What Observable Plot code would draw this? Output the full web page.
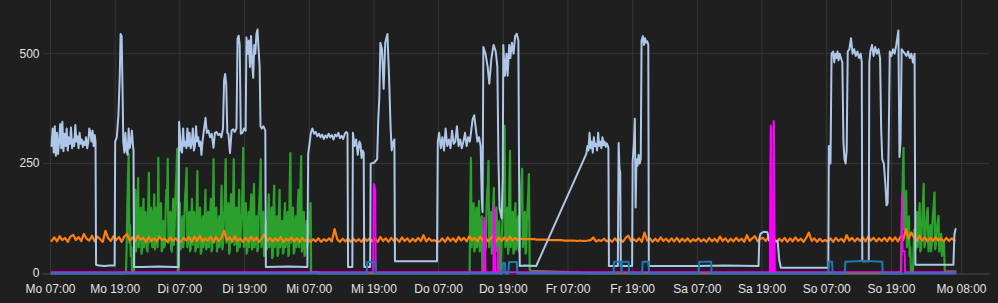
<!DOCTYPE html>
<html><head><meta charset="utf-8">
<script src="https://cdn.jsdelivr.net/npm/d3@7"></script>
<script src="https://cdn.jsdelivr.net/npm/@observablehq/plot@0.6"></script>
<style>html,body{margin:0;padding:0;background:#1f1f1f;overflow:hidden}</style>
</head><body><div id="chart"></div>
<script>
// time axis in hours since Monday 07:00
const tickHours = [0,12,24,36,48,60,72,84,96,108,120,132,144,156,169];
const tickLabels = ["Mo 07:00","Mo 19:00","Di 07:00","Di 19:00","Mi 07:00","Mi 19:00","Do 07:00","Do 19:00","Fr 07:00","Fr 19:00","Sa 07:00","Sa 19:00","So 07:00","So 19:00","Mo 08:00"];
const yTicks = [0,250,500];

// light blue series [hour, value]
const lightBlue = [
[0.19,290],[0.4,330],[0.6,275],[0.8,335],[1.0,268],[1.2,320],[1.4,272],[1.6,300],[1.8,340],[2.0,285],[2.2,345],[2.4,278],[2.6,318],[2.8,290],[3.0,330],[3.2,280],[3.4,310],[3.6,295],[3.8,332],[4.0,285],[4.2,305],[4.4,290],[4.6,338],[4.8,300],[5.0,312],[5.2,285],[5.4,320],[5.6,295],[5.8,305],[6.0,288],[6.2,300],[6.4,292],[6.6,310],[6.8,285],[7.0,298],[7.2,330],[7.4,320],[7.6,300],[7.8,325],[8.0,290],[8.2,315],[8.35,300],
[8.45,20],[9.0,18],[10.0,17],[11.0,18],[11.9,18],
[12.0,300],[12.3,310],[12.6,360],[12.85,450],[13.0,545],[13.2,540],[13.36,420],[13.5,300],[13.7,275],[13.9,320],[14.1,280],[14.3,270],[14.5,330],[14.7,285],[14.9,300],[15.1,325],[15.3,290],[15.4,280],
[15.5,15],[17,15],[20,16],[23,15],[23.75,15],
[23.85,345],[24.0,320],[24.2,280],[24.4,275],[24.6,330],[24.8,290],[25.0,300],[25.2,285],[25.4,330],[25.6,290],[25.8,320],[26.0,285],[26.2,295],[26.4,330],[26.6,280],[26.8,290],[27.0,335],[27.2,300],[27.4,310],[27.6,290],[27.8,300],
[28.0,270],[28.2,300],[28.5,330],[28.76,354],[29.0,320],[29.3,325],[29.6,310],[29.9,318],[30.24,286],[30.5,320],[30.8,322],[31.1,315],[31.4,318],[31.7,310],[32.0,330],[32.2,440],[32.4,454],[32.6,430],[32.8,320],[33.0,318],[33.3,274],[33.6,325],[33.9,328],[34.2,322],[34.5,330],[34.7,535],[34.9,541],[35.1,520],[35.3,318],[35.6,320],[35.9,330],[36.2,325],
[36.35,537],[36.6,500],[36.8,530],[37.0,470],[37.2,540],[37.4,480],[37.6,445],[37.8,520],[38.0,500],[38.2,545],[38.4,555],[38.6,510],[38.8,470],
[38.96,335],[39.2,330],[39.5,335],[39.85,325],
[39.95,15],[44,16],[47.65,15],
[47.8,272],[48.0,290],[48.3,320],[48.6,330],[48.9,318],[49.2,322],[49.5,312],[49.8,318],[50.1,310],[50.4,316],[50.7,306],[51.0,314],[51.3,309],[51.6,318],[51.9,310],[52.2,315],[52.5,305],[52.8,316],[53.1,312],[53.4,320],[53.7,308],[54.0,313],[54.3,306],[54.6,318],[54.9,322],[55.1,318],
[55.2,15],[56.0,15],
[56.1,320],[56.4,290],[56.7,305],[57.0,270],[57.3,300],[57.5,295],[57.7,263],[57.9,280],[58.1,275],
[58.2,15],[59.3,15],
[59.4,250],[60.0,252],[60.6,260],[60.8,350],[61.0,400],[61.2,525],[61.5,510],[61.8,420],[62.1,525],[62.5,545],[62.8,450],[63.1,330],[63.3,280],[63.6,300],[63.8,305],
[63.9,28],[71.7,28],
[71.85,300],[72.1,320],[72.4,285],[72.7,310],[73.0,280],[73.3,330],[73.6,290],[73.9,305],[74.2,285],[74.5,325],[74.8,295],[75.1,300],[75.4,335],[75.7,290],[76.0,305],[76.3,285],[76.6,300],[76.9,320],[77.2,290],[77.5,310],[77.8,300],
[78.0,320],[78.3,350],[78.6,360],[78.9,330],[79.2,300],[79.5,310],[79.8,290],[80.0,170],[80.15,140],
[80.3,515],[80.7,500],[81.1,470],[81.4,432],[81.8,490],[82.2,520],[82.6,505],[82.9,470],[83.1,260],[83.3,150],[83.7,125],[83.9,220],[84.0,520],[84.3,450],[84.6,500],[84.8,450],[85.1,520],[85.3,490],[85.6,525],[85.9,500],[86.2,540],[86.5,545],[86.8,530],[86.9,280],
[87.05,17],[88,18],[90.1,17],
[99.4,272],
[99.6,290],[99.8,280],[100.0,320],[100.2,285],[100.4,300],[100.6,275],[100.8,310],[101.0,290],[101.2,295],[101.4,280],[101.6,320],[101.8,290],[102.0,300],[102.2,285],[102.4,310],[102.6,292],[102.8,300],[103.0,288],[103.2,296],[103.4,290],[103.5,285],
[103.6,17],[105.25,17],[105.4,297],[105.55,240],[105.7,230],[105.8,17],[107.9,17],
[108.0,255],[108.25,300],[108.4,352],[108.55,150],[108.7,260],[108.9,245],[109.1,270],[109.3,250],[109.5,260],
[109.65,530],[109.9,540],[110.1,520],[110.3,535],[110.5,525],[110.7,528],[110.9,520],
[111.0,17],[120,17],[125,18],[131.35,17],
[131.5,80],[131.7,90],[132.3,95],[133.0,94],[133.3,75],[134.9,74],[135.2,30],[135.5,13],[140,13],[144.3,13],
[144.4,290],[144.7,250],[144.9,500],[145.2,505],[145.4,480],[145.6,500],[145.8,490],[146.0,505],[146.2,485],[146.4,500],[146.6,492],[146.9,480],
[147.1,300],[147.3,260],[147.5,250],[147.7,280],
[147.9,505],[148.2,510],[148.5,535],[148.8,500],[149.1,510],[149.4,495],[149.7,505],[150.0,490],[150.3,500],[150.5,480],
[150.6,28],[151.8,28],
[151.9,480],[152.1,505],[152.4,520],[152.7,495],[153.0,515],[153.3,500],[153.6,510],[153.9,490],
[154.1,330],[154.3,260],[154.6,250],[154.9,200],[155.1,155],[155.3,160],[155.5,300],
[155.7,505],[156.0,495],[156.3,510],[156.6,500],[156.9,520],[157.3,553],[157.4,400],[157.5,265],[157.7,300],
[157.9,510],[158.2,505],[158.5,500],[158.8,495],[159.1,505],[159.4,490],[159.7,500],[160.0,480],[160.3,500],
[160.45,20],[164,20],[167.5,20],[167.7,90],[167.9,101]
];

// green series: dense sections (evenly spaced between start and end hour) plus flat parts
const greenLead = [[0.19,0],[13.9,0]];
const green1Span = [14.0, 48.25];
const green1Values = [0,60,150,220,272,70,110,40,60,5,5,5,5,100,190,50,70,130,217,60,90,130,150,45,55,120,170,60,80,140,120,55,50,150,229,70,95,150,140,60,60,130,180,55,75,150,130,60,263,80,90,140,160,50,55,110,120,60,70,150,190,160,261,70,85,130,140,55,50,120,170,65,90,150,200,230,284,3,3,100,160,55,60,120,130,60,75,140,180,200,240,60,70,120,140,50,55,130,170,65,90,140,120,50,60,150,233,60,80,120,150,45,50,110,130,60,70,140,190,55,60,120,140,60,85,130,170,50,55,160,260,70,90,130,150,50,60,110,130,60,75,150,200,55,65,110,140,190,260,70,80,130,160,45,50,140,180,70,90,170,260,65,70,120,150,50,55,140,190,60,80,110,140,200,286,60,70,130,160,45,50,120,140,60,85,150,180,55,60,150,204,60,80,110,130,50,55,130,170,200,260,60,75,120,140,40,45,100,120,55,60,140,180,60,70,120,150,35,40,150,200,60,80,110,130,40,45,140,190,60,70,100,120,45,50,130,160,60,80,120,140,40,45,200,274,70,90,130,150,45,50,110,130,60,70,150,190,60,80,200,267,50,60,120,140,40,45,100,120,60,70,90,110,130,160];
const green1Tail = [[48.35,3],[49.7,3],[49.8,0],[77.6,0]];
const green2Span = [77.75, 88.75];
const green2Values = [0,150,263,60,90,140,160,50,55,120,150,60,70,130,165,50,60,110,130,5,0,60,120,50,60,140,180,200,256,60,70,120,140,45,50,160,195,60,80,130,150,50,60,100,120,5,0,50,90,130,160,250,336,60,70,130,150,45,55,200,279,60,80,120,140,45,50,130,160,55,70,110,130,50,55,150,180,210,238,60,70,120,140,45,50,120,150,180,226];
const green2Tail = [[88.9,8],[89.3,6],[92,5],[96,3],[100,0],[157.6,0]];
const green3Span = [157.75, 165.75];
const green3Values = [0,80,160,230,286,100,150,170,188,60,70,110,130,40,60,5,3,3,3,60,100,50,60,110,140,60,80,130,160,50,55,100,130,170,204,60,70,100,120,140,149,50,60,90,110,50,70,120,140,160,184,55,65,90,110,120,131,50,60,80,90,40,45,60,70];
const green3Tail = [[165.9,5],[167.9,5]];

// orange series sampled every 0.5 h from 0.2 h
const orangeStart = 0.2;
const orangeStep = 0.5;
const orangeValues = [
74,82,73,85,76,81,72,84,88,76,83,74,90,79,75,86,73,84,78,72,97,80,74,85,
76,83,72,84,90,75,82,73,86,77,81,72,83,74,80,73,84,76,79,72,82,74,80,73,
72,81,75,83,72,84,74,86,73,80,75,84,72,83,74,81,97,76,82,73,85,74,80,72,
81,73,84,75,82,72,80,89,74,81,73,80,74,83,72,79,75,82,73,80,72,81,74,79,
72,78,73,80,72,78,74,80,73,101,78,72,79,73,80,72,79,73,78,72,81,74,80,73,
79,72,83,74,80,72,81,74,79,72,82,74,80,72,79,73,81,74,87,73,80,74,76,72,
73,80,72,82,74,80,72,83,75,81,73,85,76,81,73,84,75,82,73,80,86,74,82,74,
82,74,84,75,81,76,79,78,78,78,78,78,77,77,77,77,77,76,76,76,76,76,75,75,
75,75,75,74,75,74,74,75,76,82,73,76,74,79,73,77,72,80,73,78,72,81,86,74,
78,73,80,72,93,75,80,72,79,73,82,74,79,72,80,73,81,72,79,73,80,72,78,74,
80,73,78,72,81,73,79,72,84,74,80,72,79,73,81,74,79,72,87,74,80,85,73,79,
81,74,84,73,80,72,79,73,81,72,80,73,82,74,79,72,81,93,74,80,72,79,73,76,
73,80,72,81,74,79,72,87,75,81,73,80,74,82,73,84,75,81,73,80,74,81,73,82,
74,82,73,84,76,101,80,93,82,74,86,75,82,73,81,74,83,75,80,73,81,74,80,75
];

// magenta series [hour, value]
const magenta = [[0.19,3],[59.85,3],[59.95,204],[60.1,200],[60.25,190],[60.35,3],[80.35,3],[80.45,127],[80.6,120],[80.7,3],[82.15,3],[82.25,153],[82.4,140],[82.5,3],[82.95,3],[83.05,60],[83.15,3],[133.45,3],[133.52,204],[133.6,337],[133.68,330],[133.76,3],[134.06,3],[134.14,347],[134.22,345],[134.3,178],[134.38,3],[157.85,3],[157.95,180],[158.1,51],[158.45,51],[158.55,3],[167.9,3]];

// dark blue series [hour, value]
const blue = [[0.19,0],[58.65,0],[58.75,26],[60.25,26],[60.35,0],[83.85,0],[83.95,24],[84.3,24],[84.4,0],[84.95,0],[85.05,26],[86.5,26],[86.6,0],[104.45,0],[104.55,27],[105.85,27],[105.95,0],[106.0,27],[107.25,27],[107.35,0],[109.75,0],[109.85,27],[110.95,27],[111.05,0],[120.25,0],[120.35,27],[122.55,27],[122.65,0],[144.3,0],[144.4,27],[145.0,27],[145.1,0],[147.35,0],[147.45,27],[149.5,28],[150.9,29],[154.3,27],[154.4,0],[167.9,0]];

const fromPairs = p => p.map(([h, v]) => ({h, v}));
const fromSpan = ([a, b], vals) => vals.map((v, i) => ({h: a + i * (b - a) / (vals.length - 1), v}));

const lightBlueData = fromPairs(lightBlue);
const greenData = [
  ...fromPairs(greenLead),
  ...fromSpan(green1Span, green1Values),
  ...fromPairs(green1Tail),
  ...fromSpan(green2Span, green2Values),
  ...fromPairs(green2Tail),
  ...fromSpan(green3Span, green3Values),
  ...fromPairs(green3Tail)
];
const orangeData = orangeValues.map((v, i) => ({h: orangeStart + i * orangeStep, v}));
const magentaData = fromPairs(magenta);
const blueData = fromPairs(blue);

const labelOf = new Map(tickHours.map((h, i) => [h, tickLabels[i]]));
const gridColor = "#363636";

const chart = Plot.plot({
  width: 998,
  height: 303,
  marginLeft: 43,
  marginRight: 9,
  marginTop: 0,
  marginBottom: 30,
  style: {background: "#1f1f1f", color: "#e2e2e2", fontSize: "12px", fontFamily: "'Liberation Sans', Arial, sans-serif"},
  x: {domain: [-1.3, 174.2], ticks: tickHours, tickFormat: d => labelOf.get(d), tickSize: 0, tickPadding: 11, label: null},
  y: {domain: [0, 621], ticks: yTicks, tickSize: 0, tickPadding: 4, label: null},
  marks: [
    Plot.ruleX(tickHours, {stroke: gridColor, strokeWidth: 1}),
    Plot.ruleY(yTicks.filter(d => d > 0), {stroke: gridColor, strokeWidth: 1}),
    Plot.ruleY([0], {stroke: "#4a4a4a", strokeWidth: 1, dy: 0.5}),
    Plot.line(greenData, {x: "h", y: "v", stroke: "#2ca02c", strokeWidth: 2.2}),
    Plot.line(orangeData, {x: "h", y: "v", stroke: "#ff7f0e", strokeWidth: 2.2}),
    Plot.line(lightBlueData, {x: "h", y: "v", stroke: "#aec7e8", strokeWidth: 2}),
    Plot.line(magentaData, {x: "h", y: "v", stroke: "#ff00ff", strokeWidth: 1.8}),
    Plot.line(blueData, {x: "h", y: "v", stroke: "#1f77b4", strokeWidth: 2})
  ]
});
document.getElementById("chart").appendChild(chart);
</script></body></html>
